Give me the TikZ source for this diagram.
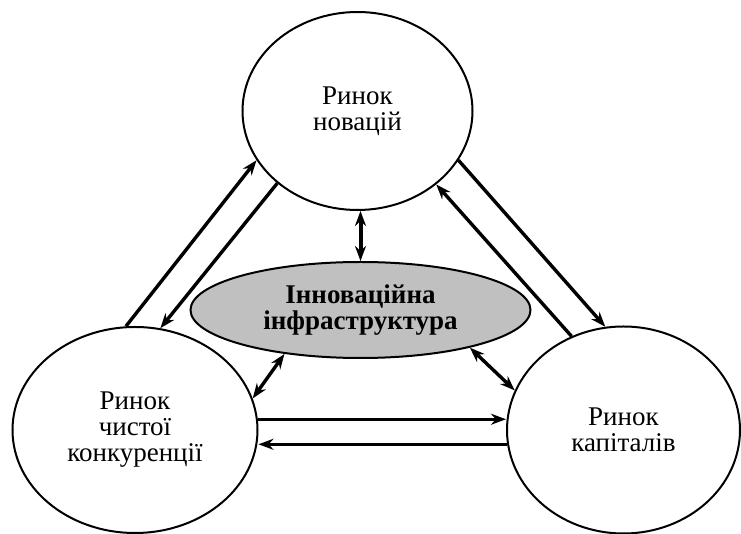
\documentclass[tikz,border=0pt]{standalone}
\usepackage{fontspec}
\setmainfont{Liberation Serif}
\usetikzlibrary{arrows.meta,shapes.geometric}
\definecolor{infgray}{HTML}{C0C0C0}
\tikzset{
  market/.style={draw, ellipse, line width=1pt, fill=white, inner sep=0pt, align=center, font=\fontsize{13.5}{13}\selectfont},
  infra/.style={draw, ellipse, line width=1pt, fill=infgray, inner sep=0pt, align=center, font=\bfseries\fontsize{13.5}{13}\selectfont},
  flow/.style={-{Stealth[length=7.5pt, width=5.5pt]}, line width=1.7pt},
  both/.style={{Stealth[length=7.5pt, width=5.5pt]}-{Stealth[length=7.5pt, width=5.5pt]}, line width=1.7pt}
}

\begin{document}
\begin{tikzpicture}[x=0.5pt, y=-0.5pt]
  \useasboundingbox (0,0) rectangle (741,534);

  \node[market, minimum width=115pt, minimum height=99pt] (nov) at (357.5,111) {Ринок\\новацій};
  \node[infra, minimum width=170pt, minimum height=48pt] (inf) at (360.5,310) {Інноваційна\\інфраструктура};
  \node[market, minimum width=122.5pt, minimum height=103pt] (chk) at (135,430) {Ринок\\чистої\\конкуренції};
  \node[market, minimum width=116.5pt, minimum height=103.5pt] (kap) at (623.5,430) {Ринок\\капіталів};

  % outer triangle
  \draw[flow] (chk.95.5) -- (nov.206.8);
  \draw[flow] (nov.222) -- (chk.76);
  \draw[flow] (nov.334) -- (kap.100);
  \draw[flow] (kap.119) -- (nov.317.5);
  \draw[flow] (chk.5.6) -- (chk.5.6 -| kap.west);
  \draw[flow] (kap.187.4) -- (kap.187.4 -| chk.east);

  % links with the infrastructure
  \draw[both, line width=2pt] (inf.north |- nov.south) -- (inf.north);
  \draw[both] (inf.210) -- (chk.15.8);
  \draw[both] (inf.341.8) -- (kap.160.4);
\end{tikzpicture}
\end{document}
